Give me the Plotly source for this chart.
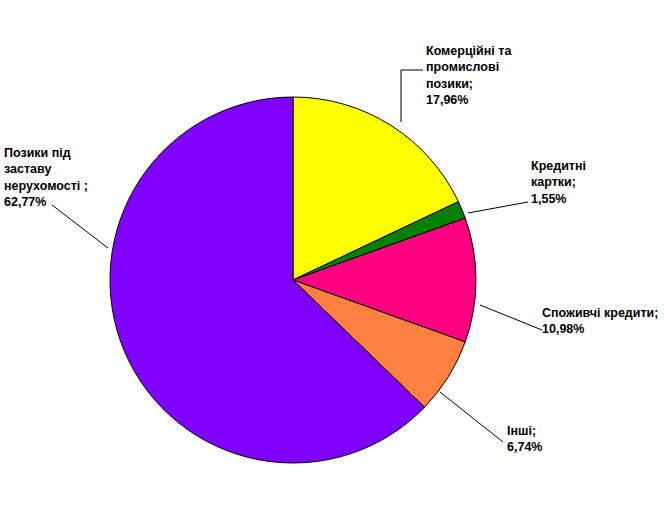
import plotly.graph_objects as go

# ---- data ----
categories = ["Комерційні та промислові позики", "Кредитні картки",
              "Споживчі кредити", "Інші", "Позики під заставу нерухомості"]
values = [17.96, 1.55, 10.98, 6.74, 62.77]
label_texts = ["Комерційні та<br>промислові<br>позики;<br>17,96%",
               "Кредитні<br>картки;<br>1,55%",
               "Споживчі кредити;<br>10,98%",
               "Інші;<br>6,74%",
               "Позики під<br>заставу<br>нерухомості ;<br>62,77%"]
colors = ["#FFFF00", "#008000", "#FF0080", "#FF8040", "#8000FF"]

# ---- layout constants (pixels) ----
W, H = 664, 505
cx, cy, r = 293, 280, 183
label_pos = [(424, 42), (529, 157), (540, 304), (505, 422), (2, 144)]
leaders = [[(401, 122), (401, 70), (423, 70)],
           [(468, 213), (528, 202)],
           [(480, 305), (542, 330)],
           [(440, 392), (503, 442)],
           [(108, 248), (52, 205)]]

px = lambda x: x / W
py = lambda y: 1 - y / H

fig = go.Figure(go.Pie(
    labels=categories, values=values, sort=False, direction="clockwise",
    rotation=0, textinfo="none", hoverinfo="none", showlegend=False,
    marker=dict(colors=colors, line=dict(color="black", width=1)),
    domain=dict(x=[px(cx - r), px(cx + r)], y=[py(cy + r), py(cy - r)]),
))

for txt, (lx, ly) in zip(label_texts, label_pos):
    fig.add_annotation(text="<b>" + txt + "</b>", x=px(lx), y=py(ly),
                       xref="paper", yref="paper", xanchor="left", yanchor="top",
                       align="left", showarrow=False,
                       font=dict(family="Liberation Sans, Arial", size=12.5, color="black"))

for pts in leaders:
    for (x0, y0), (x1, y1) in zip(pts[:-1], pts[1:]):
        fig.add_shape(type="line", xref="paper", yref="paper",
                      x0=px(x0), y0=py(y0), x1=px(x1), y1=py(y1),
                      line=dict(color="black", width=1))

fig.update_layout(width=W, height=H, margin=dict(l=0, r=0, t=0, b=0),
                  paper_bgcolor="white", plot_bgcolor="white")
fig.write_html("out.html", config={"displayModeBar": False, "staticPlot": True},
               post_script="document.body.style.margin='0';document.body.style.overflow='hidden';")
